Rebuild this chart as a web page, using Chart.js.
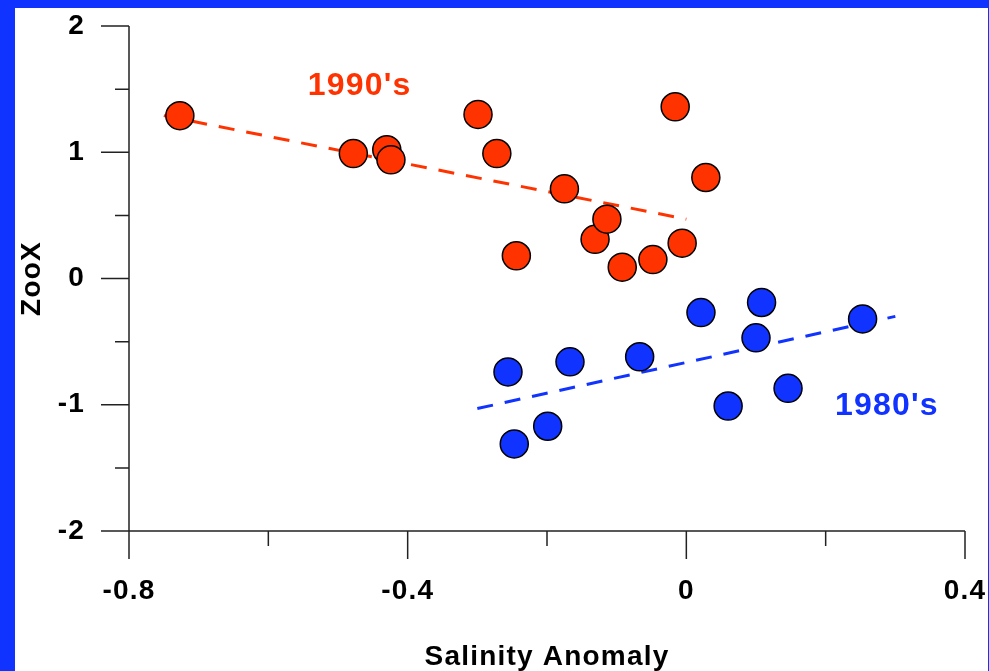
<!DOCTYPE html>
<html>
<head>
<meta charset="utf-8">
<script src="https://cdn.jsdelivr.net/npm/chart.js@4.4.0/dist/chart.umd.min.js"></script>
<style>
  body { margin: 0; background: #1133ff; width: 989px; height: 671px; overflow: hidden; }
  #frame { position: absolute; left: 15px; top: 8px; width: 973px; height: 663px; background: #fff; }
</style>
</head>
<body>
<div id="frame"><canvas id="zooChart" width="973" height="663"></canvas></div>
<script>
// 1990's samples (salinity anomaly, ZooX)
const salinity90 = [-0.727, -0.478, -0.430, -0.424, -0.299, -0.272, -0.244, -0.175, -0.131, -0.114, -0.092, -0.048, -0.016, -0.006, 0.028];
const zoox90 = [1.29, 0.99, 1.02, 0.94, 1.30, 0.99, 0.18, 0.71, 0.31, 0.47, 0.09, 0.15, 1.36, 0.28, 0.80];
// 1980's samples
const salinity80 = [-0.256, -0.167, -0.247, -0.199, -0.067, 0.021, 0.108, 0.100, 0.060, 0.146, 0.253];
const zoox80 = [-0.74, -0.66, -1.31, -1.17, -0.62, -0.27, -0.19, -0.47, -1.01, -0.87, -0.32];
// fitted trend lines (end points)
const trend90X = [-0.75, 0.0];
const trend90Y = [1.29, 0.47];
const trend80X = [-0.30, 0.30];
const trend80Y = [-1.03, -0.30];
// tick labels
const xTickLabels = ['-0.8', '-0.4', '0', '0.4'];
const yTickLabels = ['-2', '-1', '0', '1', '2'];

const RED = '#ff3300';
const BLUE = '#1133ff';

function toPoints(xs, ys) {
    return xs.map((x, i) => ({ x: x, y: ys[i] }));
}

// label text placed next to each cloud, in data units
const seriesLabels = [
    { text: "1990's", x: -0.469, y: 1.525, color: RED },
    { text: "1980's", x: 0.288, y: -1.01, color: BLUE }
];

const axisPlugin = {
    id: 'axisPlugin',
    beforeDraw(chart) {
        chart.ctx.letterSpacing = '1.2px';
    },
    afterDraw(chart) {
        const ctx = chart.ctx;
        const area = chart.chartArea;
        const xs = chart.scales.x;
        const ys = chart.scales.y;
        ctx.save();
        ctx.strokeStyle = '#222';
        ctx.lineWidth = 1.5;
        ctx.beginPath();
        ctx.moveTo(area.left, area.top);
        ctx.lineTo(area.left, area.bottom);
        ctx.lineTo(area.right, area.bottom);
        // tick marks, long at labelled values
        ys.ticks.forEach(t => {
            const py = ys.getPixelForValue(t.value);
            const len = t.label !== '' ? 28 : 14;
            ctx.moveTo(area.left - len, py);
            ctx.lineTo(area.left, py);
        });
        xs.ticks.forEach(t => {
            const px = xs.getPixelForValue(t.value);
            const len = t.label !== '' ? 28 : 15;
            ctx.moveTo(px, area.bottom);
            ctx.lineTo(px, area.bottom + len);
        });
        ctx.stroke();

        ctx.font = 'bold 32px "Liberation Sans", Arial, sans-serif';
        ctx.textAlign = 'center';
        ctx.textBaseline = 'middle';
        seriesLabels.forEach(l => {
            ctx.fillStyle = l.color;
            ctx.fillText(l.text, xs.getPixelForValue(l.x), ys.getPixelForValue(l.y));
        });
        ctx.restore();
    }
};

const tickFont = { family: '"Liberation Sans", Arial, sans-serif', size: 28, weight: 'bold' };

new Chart(document.getElementById('zooChart').getContext('2d'), {
    type: 'scatter',
    data: {
        datasets: [{
            label: "1990's",
            data: toPoints(salinity90, zoox90),
            backgroundColor: RED,
            borderColor: '#000',
            borderWidth: 1.5,
            pointRadius: 14,
            pointHoverRadius: 14
        }, {
            label: "1980's",
            data: toPoints(salinity80, zoox80),
            backgroundColor: BLUE,
            borderColor: '#000',
            borderWidth: 1.5,
            pointRadius: 14,
            pointHoverRadius: 14
        }, {
            type: 'line',
            label: "1990's trend",
            data: toPoints(trend90X, trend90Y),
            borderColor: RED,
            borderWidth: 3,
            borderDash: [16, 12],
            pointRadius: 0,
            fill: false
        }, {
            type: 'line',
            label: "1980's trend",
            data: toPoints(trend80X, trend80Y),
            borderColor: BLUE,
            borderWidth: 3,
            borderDash: [16, 12],
            pointRadius: 0,
            fill: false
        }]
    },
    options: {
        responsive: false,
        animation: false,
        layout: { autoPadding: false, padding: { top: 18, right: 23, bottom: 0, left: 0 } },
        plugins: {
            legend: { display: false },
            tooltip: { enabled: false }
        },
        scales: {
            x: {
                type: 'linear',
                min: -0.8,
                max: 0.4,
                grid: { display: false, drawTicks: false },
                border: { display: false },
                afterFit(scale) {
                    scale.height = 140;
                    scale.paddingLeft = 0;
                    scale.paddingRight = 0;
                },
                ticks: {
                    stepSize: 0.2,
                    autoSkip: false,
                    maxRotation: 0,
                    padding: 43,
                    color: '#000',
                    font: tickFont,
                    callback: function (value) {
                        const s = String(Math.round(value * 10) / 10);
                        return xTickLabels.includes(s) ? s : '';
                    }
                },
                title: {
                    display: true,
                    text: 'Salinity Anomaly',
                    color: '#000',
                    font: { family: '"Liberation Sans", Arial, sans-serif', size: 28, weight: 'bold' },
                    padding: { top: 0, bottom: -3 }
                }
            },
            y: {
                type: 'linear',
                min: -2,
                max: 2,
                grid: { display: false, drawTicks: false },
                border: { display: false },
                afterFit(scale) {
                    scale.width = 114;
                    scale.paddingTop = 0;
                    scale.paddingBottom = 0;
                },
                ticks: {
                    stepSize: 0.5,
                    autoSkip: false,
                    padding: 44,
                    color: '#000',
                    font: tickFont,
                    callback: function (value) {
                        const s = String(value);
                        return yTickLabels.includes(s) ? s : '';
                    }
                },
                title: {
                    display: true,
                    text: 'ZooX',
                    color: '#000',
                    font: { family: '"Liberation Sans", Arial, sans-serif', size: 28, weight: 'bold' },
                    padding: { top: 0, bottom: 0 }
                }
            }
        }
    },
    plugins: [axisPlugin]
});
</script>
</body>
</html>
